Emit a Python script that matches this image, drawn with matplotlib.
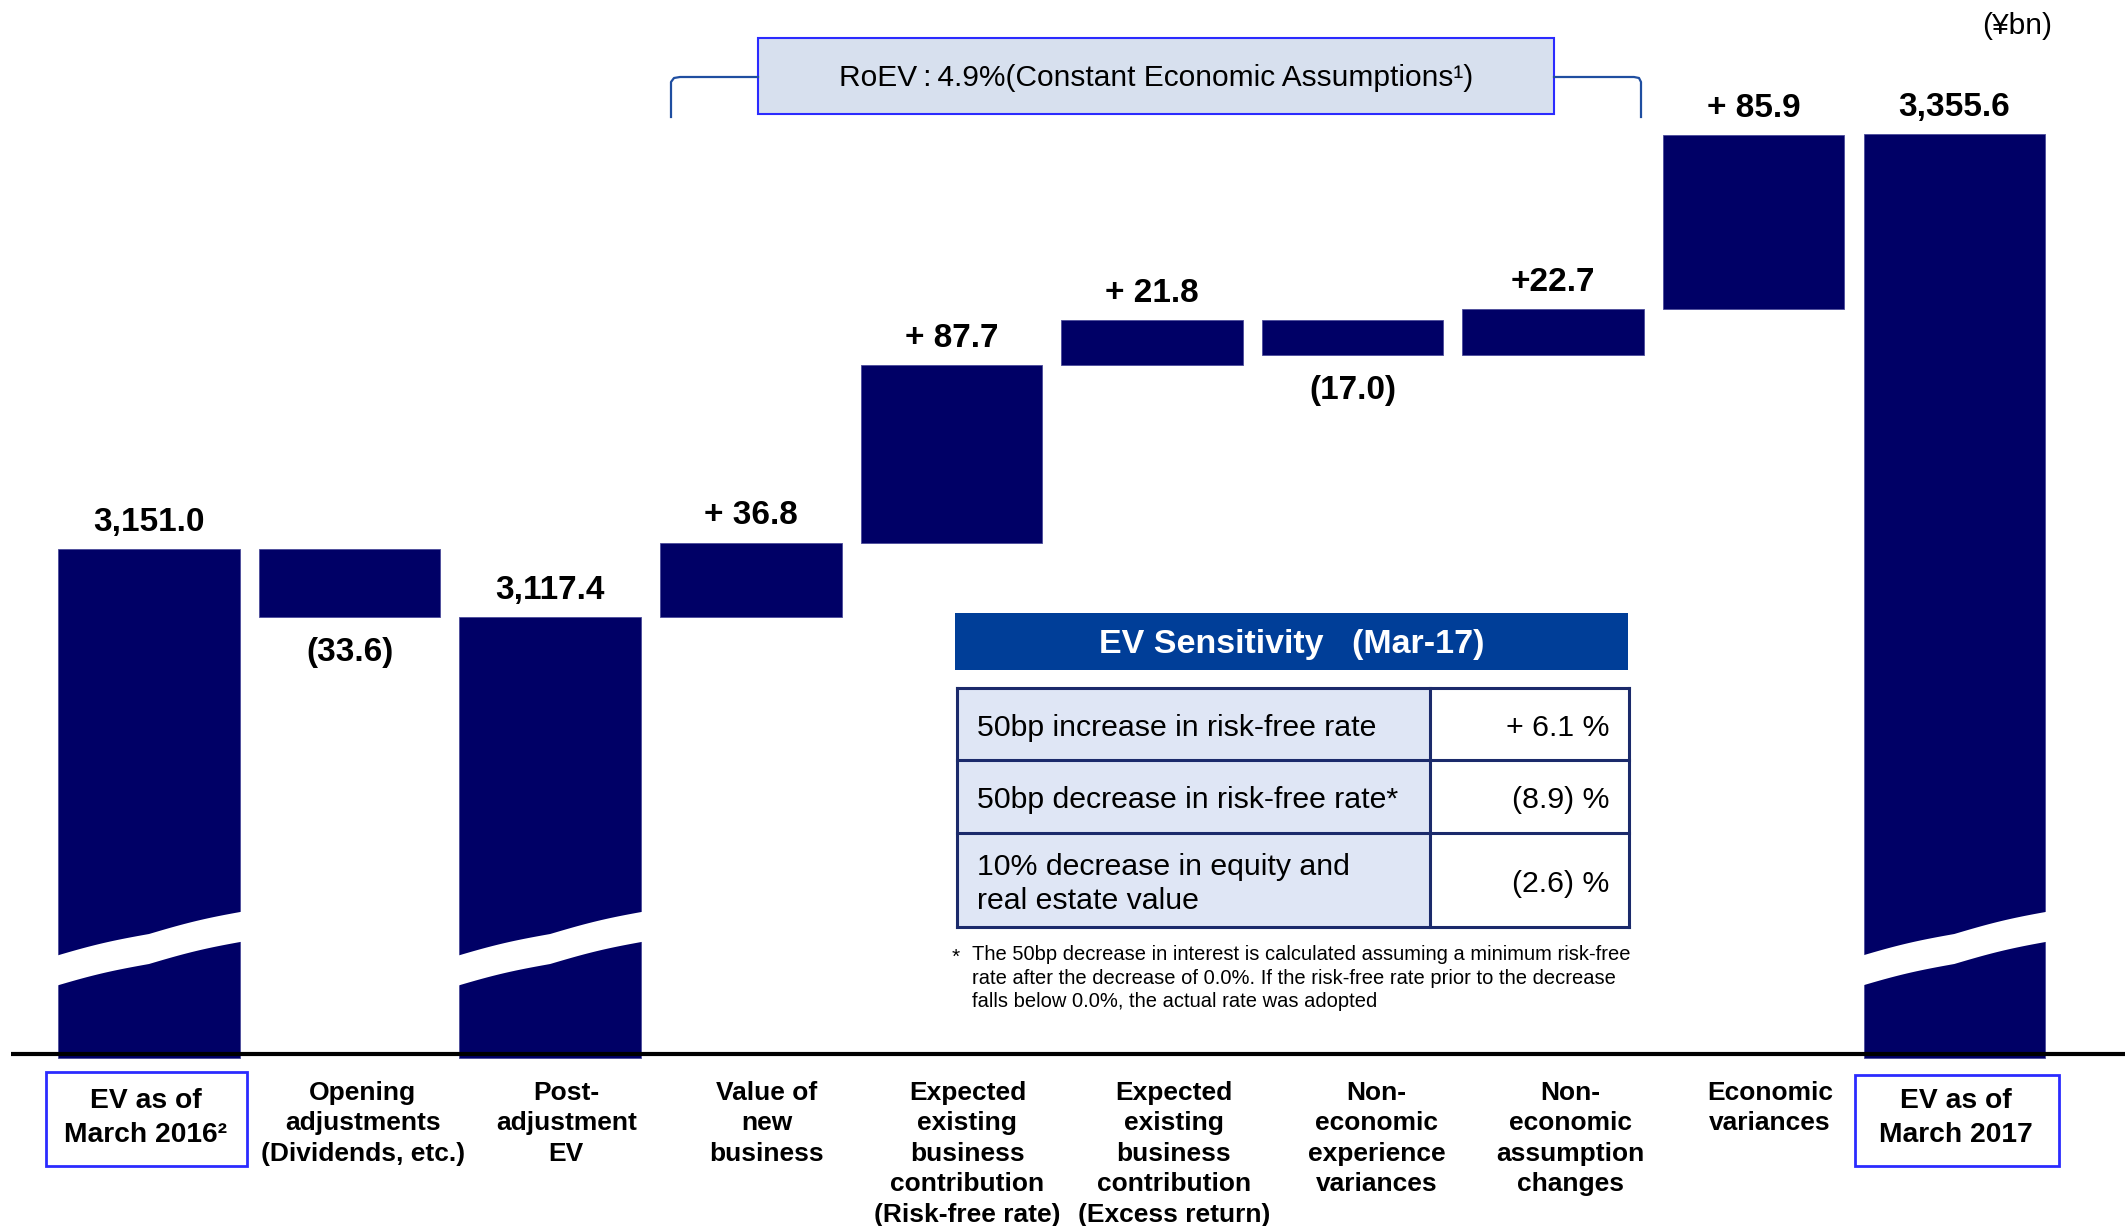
import numpy as np
import matplotlib
matplotlib.use("Agg")
from matplotlib import pyplot as plt, transforms
from matplotlib.patches import Rectangle, Polygon

plt.rcParams["font.family"] = ["Liberation Sans", "DejaVu Sans"]

categories = ["EV as of\nMarch 2016\u00b2",
              "Opening\nadjustments\n(Dividends, etc.)",
              "Post-\nadjustment\nEV",
              "Value of\nnew\nbusiness",
              "Expected\nexisting\nbusiness\ncontribution\n(Risk-free rate)",
              "Expected\nexisting\nbusiness\ncontribution\n(Excess return)",
              "Non-\neconomic\nexperience\nvariances",
              "Non-\neconomic\nassumption\nchanges",
              "Economic\nvariances",
              "EV as of\nMarch 2017"]
values = [3151.0, -33.6, 3117.4, 36.8, 87.7, 21.8, -17.0, 22.7, 85.9, 3355.6]
is_total = [True, False, True, False, False, False, False, False, False, True]
value_labels = ["3,151.0", "(33.6)", "3,117.4", "+ 36.8", "+ 87.7", "+ 21.8",
                "(17.0)", "+22.7", "+ 85.9", "3,355.6"]
sens_items = ["50bp increase in risk-free rate",
              "50bp decrease in risk-free rate*",
              "10% decrease in equity and\nreal estate value"]
sens_values = ["+ 6.1 %", "(8.9) %", "(2.6) %"]

NAVY = "#000066"
BLUE_EDGE = "#2b2bff"

fig = plt.figure(figsize=(21.25, 12.26), dpi=100)
ax = fig.add_axes([0, 0, 1, 1])
ax.set_xlim(-0.743, 9.851)
ax.set_ylim(2817.2, 3421.7)
ax.axis("off")
# pixel overlay for the decorations
ov = fig.add_axes([0, 0, 1, 1])
ov.set_xlim(0, 2125)
ov.set_ylim(1226, 0)
ov.axis("off")
mix = transforms.blended_transform_factory(ax.transData, ov.transData)

floor = 2900.0
width = 0.905
running = 0.0
for i, (v, tot, lab) in enumerate(zip(values, is_total, value_labels)):
    if tot:
        bottom, height = floor, v - floor
        running = v
    else:
        bottom = running if v > 0 else running + v
        height = abs(v)
        running += v
    ax.bar(i, height, bottom=bottom, width=width, color=NAVY,
           edgecolor="#4b4b9b", linewidth=0.6, zorder=2)
    if v > 0:
        ax.annotate(lab, (i, bottom + height), xytext=(0, 13), textcoords="offset points",
                    ha="center", va="baseline", fontsize=24, fontweight="bold")
    else:
        ax.annotate(lab, (i, bottom), xytext=(0, -25.5), textcoords="offset points",
                    ha="center", va="center", fontsize=24, fontweight="bold")

# axis break bands on the tall bars
t = np.linspace(0, 1, 61)
bow = 1.8 * np.sin(np.pi * ((2 * t) % 1))
for i in [0, 2, 9]:
    x0, x1 = i - width / 2 - 0.03, i + width / 2 + 0.03
    xs = x0 + t * (x1 - x0)
    upper = 957 - 46 * t - bow
    lower = upper + 30
    pts = np.column_stack([np.r_[xs, xs[::-1]], np.r_[upper, lower[::-1]]])
    ax.add_patch(Polygon(pts, closed=True, transform=mix, facecolor="white",
                         edgecolor="none", zorder=3))

# baseline
ov.plot([11, 2125], [1054, 1054], color="black", lw=3, zorder=5, solid_capstyle="butt")

# category labels
label_dx = [-0.015, 0.065, 0.08, 0.08, 0.08, 0.11, 0.12, 0.085, 0.08, 0.01]
for i, (cat, dx) in enumerate(zip(categories, label_dx)):
    if is_total[i] and i != 2:
        ax.text(i + dx, 1118, cat, transform=mix, ha="center", va="center",
                fontsize=20.3, fontweight="bold", linespacing=1.38)
    else:
        ax.text(i + dx, 1081, cat, transform=mix, ha="center", va="top",
                fontsize=19, fontweight="bold", linespacing=1.34)
ov.add_patch(Rectangle((46, 1072), 201, 94, fill=False, edgecolor=BLUE_EDGE, lw=2))
ov.add_patch(Rectangle((1855, 1075), 204, 91, fill=False, edgecolor=BLUE_EDGE, lw=2))

# RoEV bracket
ov.plot([671, 671, 674, 680, 758], [117, 82, 78, 77, 77], color="#1f4ea0", lw=1.6)
ov.plot([1554, 1634, 1639, 1641, 1641], [77, 77, 78, 82, 117], color="#1f4ea0", lw=1.6)
ov.add_patch(Rectangle((758, 38), 796, 76, facecolor="#d7e0ee", edgecolor=BLUE_EDGE, lw=1.5))
ov.text(1156, 78, "RoEV\u2009:\u20094.9%(Constant Economic Assumptions\u00b9)",
        ha="center", va="center", fontsize=21.5)

ov.text(2017, 26, "(\u00a5bn)", ha="center", va="center", fontsize=21.5)

# sensitivity table
ov.add_patch(Rectangle((955, 613), 673, 57, facecolor="#003e98", edgecolor="none"))
ov.text(1292, 644, "EV Sensitivity   (Mar-17)", ha="center", va="center", color="white",
        fontsize=24.5, fontweight="bold")
rows = [688, 760, 833, 927]
ov.add_patch(Rectangle((957, 688), 473, 239, facecolor="#dfe6f5", edgecolor="none"))
for y in rows:
    ov.plot([957, 1629], [y, y], color="#1b2a6b", lw=2.2)
for x in [957, 1430, 1629]:
    ov.plot([x, x], [688, 927], color="#1b2a6b", lw=2.2)
for k, (item, val) in enumerate(zip(sens_items, sens_values)):
    yc = (rows[k] + rows[k + 1]) / 2 + 4
    ov.text(977, yc, item, ha="left", va="center", fontsize=21.8, linespacing=1.25)
    ov.text(1609, yc, val, ha="right", va="center", fontsize=21.8)

ov.text(952, 957, "*", ha="left", va="center", fontsize=15)
ov.text(972, 945, "The 50bp decrease in interest is calculated assuming a minimum risk-free\n"
        "rate after the decrease of 0.0%. If the risk-free rate prior to the decrease\n"
        "falls below 0.0%, the actual rate was adopted",
        ha="left", va="top", fontsize=14.5, linespacing=1.3)

fig.savefig("out.png", dpi=100, facecolor="white")
